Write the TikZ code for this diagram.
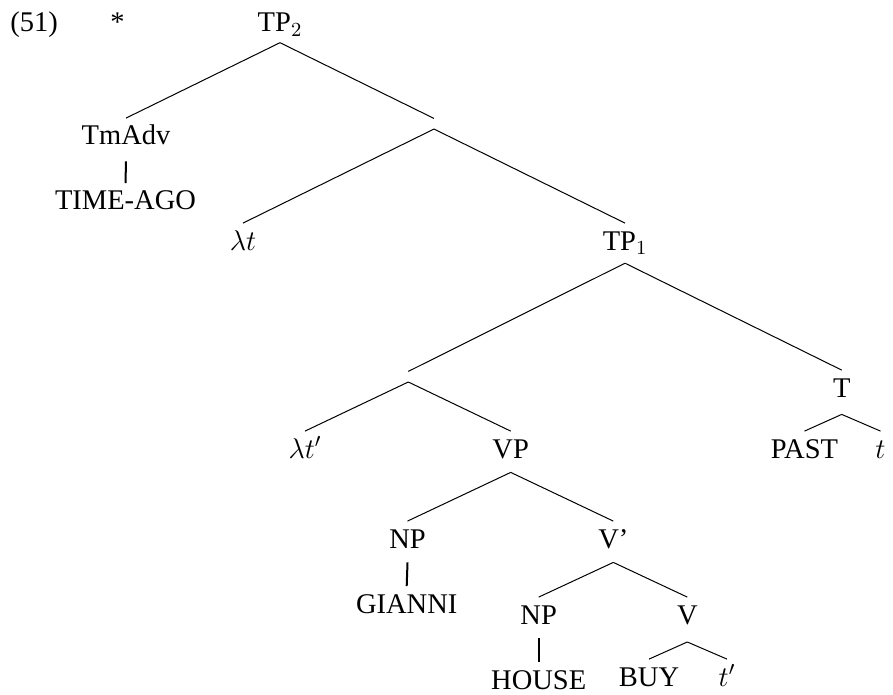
\documentclass[tikz,border=0pt]{standalone}
\usepackage[no-math]{fontspec}
\usepackage{fix-cm}
\setmainfont{Liberation Serif}
\begin{document}
\begin{tikzpicture}[x=0.5pt,y=-0.5pt,
  lab/.style={anchor=base, inner sep=0pt, text height=13.25pt, text depth=7pt,
              font=\fontsize{14.25}{17}\selectfont},
  plain/.style={anchor=base, inner sep=0pt, font=\fontsize{14.25}{17}\selectfont},
  hinge/.style={inner sep=0pt, minimum width=0pt, minimum height=4.9pt},
  branch/.style={line width=0.5pt},
  unary/.style={line width=1pt}]
\useasboundingbox (0,0) rectangle (893,695);

% example number and star
\node[plain] (exnum) at (34,32) {(51)};
\node[plain] (star) at (117.5,32) {*};

% tree nodes (positions are baselines)
\node[lab, text depth=5.15pt] (tp2) at (280,32) {TP$_2$};
\node[lab, text depth=8pt] (tmadv) at (126,145) {TmAdv};
\node[lab] (timeago) at (125.5,210) {TIME-AGO};
\node[hinge] (e1) at (434,123.75) {};
\node[lab] (lt) at (243,250) {$\lambda t$};
\node[lab, text depth=6.4pt] (tp1) at (625,250) {TP$_1$};
\node[hinge] (e2) at (408.3,376.7) {};
\node[lab, text depth=8.5pt] (T) at (841.7,397) {T};
\node[lab] (ltp) at (305,458) {$\lambda t'$};
\node[lab] (vp) at (510.7,458) {VP};
\node[lab] (past) at (804.5,458) {PAST};
\node[lab] (tt) at (880.5,458) {$t$};
\node[lab] (np1) at (407.5,548) {NP};
\node[lab] (vbar) at (613.3,548) {V’};
\node[lab] (gianni) at (406.7,613) {GIANNI};
\node[lab] (np2) at (538.7,624) {NP};
\node[lab, text depth=8.8pt] (v) at (687.3,624) {V};
\node[lab] (house) at (538.7,689) {HOUSE};
\node[lab] (buy) at (649,686) {BUY};
\node[lab] (tpr) at (727,686) {$t'$};

% branches
\draw[branch] (tp2.south) -- (tmadv.north);
\draw[branch] (tp2.south) -- (e1.north);
\draw[unary] (tmadv.south) -- (timeago.north);
\draw[branch] (e1.south) -- (lt.north);
\draw[branch] (e1.south) -- (tp1.north);
\draw[branch] (tp1.south) -- (e2.north);
\draw[branch] (tp1.south) -- (T.north);
\draw[branch] (e2.south) -- (ltp.north);
\draw[branch] (e2.south) -- (vp.north);
\draw[branch] (T.south) -- (past.north);
\draw[branch] (T.south) -- (tt.north);
\draw[branch] (vp.south) -- (np1.north);
\draw[branch] (vp.south) -- (vbar.north);
\draw[unary] (np1.south) -- (gianni.north);
\draw[branch] (vbar.south) -- (np2.north);
\draw[branch] (vbar.south) -- (v.north);
\draw[unary] (np2.south) -- (house.north);
\draw[branch] (v.south) -- (buy.north);
\draw[branch] (v.south) -- (tpr.north);
\end{tikzpicture}
\end{document}
